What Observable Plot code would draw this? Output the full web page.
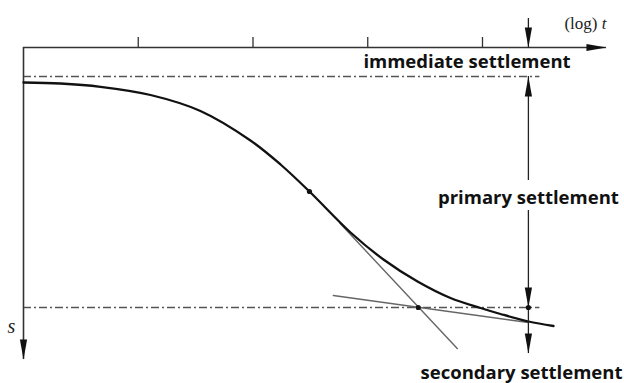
<!DOCTYPE html>
<html>
<head>
<meta charset="utf-8">
<script src="https://cdn.jsdelivr.net/npm/d3@7"></script>
<script src="https://cdn.jsdelivr.net/npm/@observablehq/plot@0.6"></script>
<style>
  html, body { margin: 0; padding: 0; background: #fff; }
  #chart svg { display: block; }
</style>
</head>
<body>
<div id="chart"></div>
<script>
// ---- data (x = log t in log cycles, y = settlement s, arbitrary units) ----
const tickT = [1, 2, 3, 4];
const curveT = [0.000, 0.322, 0.671, 1.107, 1.542, 1.978, 2.240, 2.492, 2.850, 3.137, 3.434, 3.721, 3.983, 4.157, 4.401, 4.619];
const curveS = [3.50, 3.60, 3.93, 4.75, 6.35, 9.30, 11.70, 14.40, 18.50, 21.20, 23.40, 25.05, 26.05, 26.65, 27.40, 27.85];
const levelS = [2.9, 26.0];          // immediate settlement level, end of primary consolidation
const levelEndT = 4.5;
const axisEndT = 5.08;
const axisEndS = 31.2;
const markerT = 4.40;                // time at which settlements are indicated
const tangent1T = [2.76, 3.78], tangent1S = [17.6, 30.1];   // tangent at inflection
const tangent2T = [2.70, 4.40], tangent2S = [24.8, 27.5];   // secondary compression tangent
const pointT = [2.492, 3.44, 4.40];
const pointS = [14.4, 26.0, 26.0];
const arrowFromS = [-2.9, 13.3, 16.3, 26.0];
const arrowToS   = [0.0, 2.9, 26.0, 30.6];
const labels = ["immediate settlement", "primary settlement", "secondary settlement"];
const labelT = [3.865, 4.40, 4.34];
const labelS = [1.5, 15.1, 32.6];

// ---- tables built from the arrays ----
const curve = curveT.map((t, i) => ({t, s: curveS[i]}));
const tangents = [
  ...tangent1T.map((t, i) => ({k: 1, t, s: tangent1S[i]})),
  ...tangent2T.map((t, i) => ({k: 2, t, s: tangent2S[i]}))
];
const points = pointT.map((t, i) => ({t, s: pointS[i]}));
const arrows = arrowFromS.map((s1, i) => ({t: markerT, s1, s2: arrowToS[i], rot: arrowToS[i] > s1 ? 180 : 0}));
const labelData = labels.map((text, i) => ({text, t: labelT[i], s: labelS[i]}));
const heads = [
  ...arrows.map(a => ({t: a.t, s: a.s2, rot: a.rot})),
  {t: axisEndT, s: 0, rot: 90},
  {t: 0, s: axisEndS, rot: 180}
];

// elongated filled arrowhead, tip at origin, pointing up before rotation
const arrowHead = {
  draw(ctx) {
    ctx.moveTo(0, 0);
    ctx.lineTo(-3.6, 20);
    ctx.lineTo(3.6, 20);
    ctx.closePath();
  }
};

const dashDot = "8,3,2,3";
const boldFont = "'Open Sans', 'Noto Sans', sans-serif";
const serif = "'Liberation Serif', 'DejaVu Serif', serif";

const chart = Plot.plot({
  width: 624,
  height: 383,
  margin: 0,
  style: {background: "#fff"},
  x: {domain: [-0.2004, 5.2375], axis: null},
  y: {domain: [-4.7, 33.6], reverse: true, axis: null},
  marks: [
    // dash-dot levels
    Plot.ruleY(levelS, {x1: 0, x2: levelEndT, stroke: "#555", strokeWidth: 1.3, strokeDasharray: dashDot}),
    // axes
    Plot.ruleY([0], {x1: 0, x2: axisEndT, stroke: "#333", strokeWidth: 1.6}),
    Plot.ruleX([0], {y1: 0, y2: axisEndS, stroke: "#333", strokeWidth: 1.6}),
    Plot.ruleX(tickT, {y1: -1, y2: 0, stroke: "#333", strokeWidth: 1.3}),
    // tangents
    Plot.line(tangents, {x: "t", y: "s", z: "k", stroke: "#666", strokeWidth: 1.4}),
    // consolidation curve
    Plot.line(curve, {x: "t", y: "s", curve: "catmull-rom", stroke: "#111", strokeWidth: 2.3}),
    // vertical settlement arrows
    Plot.ruleX(arrows, {x: "t", y1: "s1", y2: "s2", stroke: "#222", strokeWidth: 1.3}),
    Plot.dot(heads, {x: "t", y: "s", rotate: "rot", symbol: arrowHead, fill: "#111", stroke: "none"}),
    // characteristic points
    Plot.dot(points, {x: "t", y: "s", r: 2.6, fill: "#111", stroke: "none"}),
    // labels
    Plot.text(labelData, {x: "t", y: "s", text: "text", fontFamily: boldFont, fontWeight: "bold", fontSize: 18.5, fill: "#111", textAnchor: "middle"}),
    Plot.text(["(log) t"], {x: axisEndT, y: -2.4, textAnchor: "end", fontFamily: serif, fontSize: 17, fill: "#222"}),
    Plot.text(["s"], {x: -0.105, y: 27.9, fontFamily: serif, fontStyle: "italic", fontSize: 20, fill: "#222"})
  ]
});

document.getElementById("chart").appendChild(chart);

// italicise the "t" of the time-axis label
d3.select(chart).selectAll("text").each(function () {
  const el = d3.select(this);
  const tspan = el.select("tspan");
  const target = tspan.empty() ? el : tspan;
  if (target.text() === "(log) t") {
    target.text("(log) ");
    target.append("tspan").attr("font-style", "italic").text("t");
  }
});
</script>
</body>
</html>
